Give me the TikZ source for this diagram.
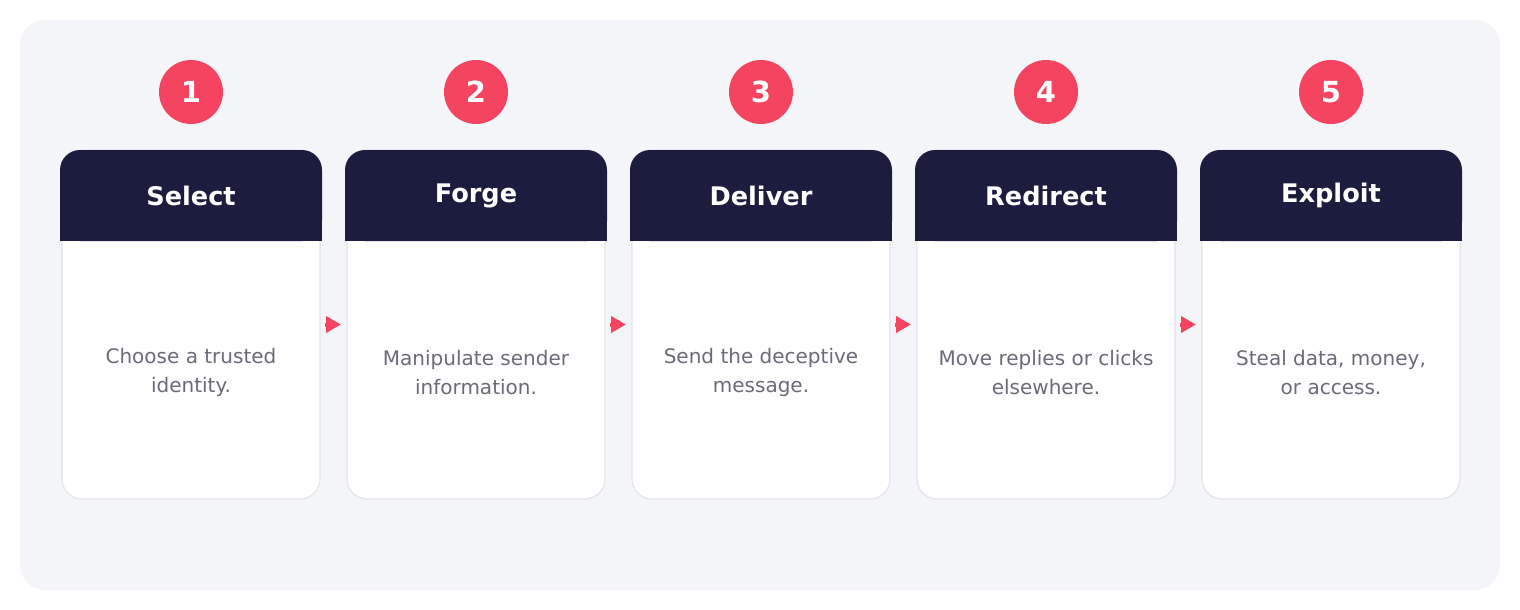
\documentclass[tikz,border=0pt]{standalone}
\usepackage{fontspec}
\setmainfont{DejaVu Sans}
\usetikzlibrary{positioning}
\usetikzlibrary{arrows.meta}

\definecolor{pagebg}{HTML}{F4F5F9}
\definecolor{headnavy}{HTML}{1C1D3E}
\definecolor{steppink}{HTML}{F5445F}
\definecolor{bodygray}{HTML}{6B6B78}
\definecolor{cardline}{HTML}{E3E4EA}

\begin{document}
\begin{tikzpicture}[x=0.5pt,y=-0.5pt]
\tikzset{card/.style={rectangle,minimum width=129pt,minimum height=174.5pt,inner sep=0pt,outer sep=0pt,rounded corners=10pt,fill=white,draw=cardline,line width=0.6pt}}
\tikzset{head/.style={rectangle,minimum width=131pt,minimum height=45.5pt,inner sep=0pt,outer sep=0pt,rounded corners=10pt,fill=headnavy,text=white,font=\fontsize{12.8}{15}\selectfont\bfseries}}
\tikzset{num/.style={circle,minimum size=32pt,inner sep=0pt,outer sep=0pt,fill=steppink,text=white,font=\fontsize{14.5}{17}\selectfont\bfseries}}
\tikzset{desc/.style={align=center,text=bodygray,font=\fontsize{10}{14.5}\selectfont}}
\tikzset{flow/.style={draw=steppink,line width=2pt,-{Triangle[length=7.5pt,width=8pt]},shorten <=2.5pt,shorten >=3pt}}
\useasboundingbox (0,0) rectangle (1520,610);
\fill[pagebg,rounded corners=12.5pt] (20,20) rectangle (1500,590);
% cards
\node[card] (card1) at (191,324.5) {};
\node[card, right=13.5pt of card1] (card2) {};
\node[card, right=13.5pt of card2] (card3) {};
\node[card, right=13.5pt of card3] (card4) {};
\node[card, right=13.5pt of card4] (card5) {};
% headers
\node[head, anchor=north] (head1) at (card1.north) {Select};
\node[head, anchor=north] (head2) at (card2.north) {Forge};
\node[head, anchor=north] (head3) at (card3.north) {Deliver};
\node[head, anchor=north] (head4) at (card4.north) {Redirect};
\node[head, anchor=north] (head5) at (card5.north) {Exploit};
\fill[headnavy] ([yshift=10pt]head1.south west) rectangle (head1.south east);
\fill[headnavy] ([yshift=10pt]head2.south west) rectangle (head2.south east);
\fill[headnavy] ([yshift=10pt]head3.south west) rectangle (head3.south east);
\fill[headnavy] ([yshift=10pt]head4.south west) rectangle (head4.south east);
\fill[headnavy] ([yshift=10pt]head5.south west) rectangle (head5.south east);
% step numbers
\node[num, above=13pt of head1] (num1) {1};
\node[num, above=13pt of head2] (num2) {2};
\node[num, above=13pt of head3] (num3) {3};
\node[num, above=13pt of head4] (num4) {4};
\node[num, above=13pt of head5] (num5) {5};
% descriptions
\node[desc] (desc1) at ([yshift=-24pt]card1.center) {Choose a trusted\\identity.};
\node[desc] (desc2) at ([yshift=-24pt]card2.center) {Manipulate sender\\information.};
\node[desc] (desc3) at ([yshift=-24pt]card3.center) {Send the deceptive\\message.};
\node[desc] (desc4) at ([yshift=-24pt]card4.center) {Move replies or clicks\\elsewhere.};
\node[desc] (desc5) at ([yshift=-24pt]card5.center) {Steal data, money,\\or access.};
\draw[flow](card1) -- (card2);
\draw[flow](card2) -- (card3);
\draw[flow](card3) -- (card4);
\draw[flow](card4) -- (card5);
\end{tikzpicture}
\end{document}
